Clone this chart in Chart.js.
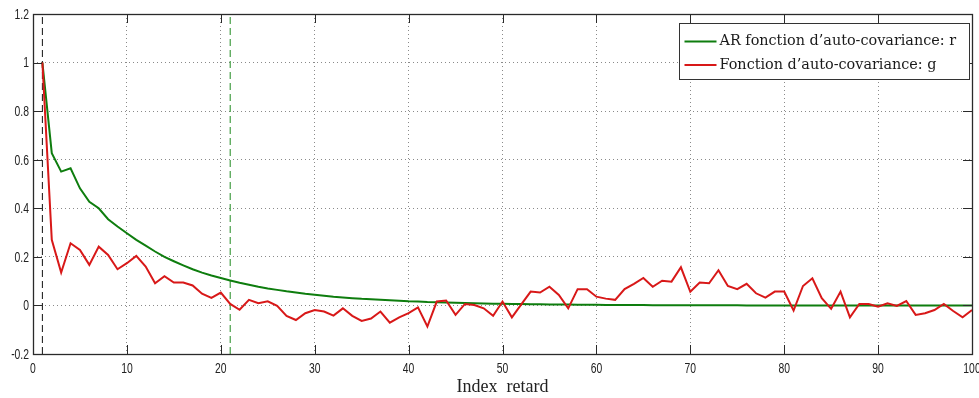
<!DOCTYPE html>
<html>
<head>
<meta charset="utf-8">
<script src="https://cdn.jsdelivr.net/npm/chart.js@4/dist/chart.umd.min.js"></script>
<style>
  html, body { margin: 0; padding: 0; background: #fff; }
  #wrap { width: 979px; height: 398px; position: relative; }
</style>
</head>
<body>
<div id="wrap"><canvas id="c" width="979" height="398"></canvas></div>
<script>
// Lag indices 1..100
const lags = Array.from({ length: 100 }, (_, i) => i + 1);

// AR model auto-covariance (r)
const arCov = [
  1.000, 0.627, 0.551, 0.565, 0.482, 0.427, 0.400, 0.355, 0.325, 0.297,
  0.270, 0.246, 0.222, 0.200, 0.182, 0.165, 0.149, 0.135, 0.123, 0.113,
  0.103, 0.093, 0.085, 0.077, 0.070, 0.064, 0.058, 0.053, 0.048, 0.044,
  0.040, 0.036, 0.033, 0.030, 0.027, 0.025, 0.023, 0.021, 0.019, 0.017,
  0.016, 0.014, 0.013, 0.012, 0.011, 0.010, 0.009, 0.008, 0.007, 0.007,
  0.006, 0.006, 0.005, 0.005, 0.004, 0.004, 0.004, 0.003, 0.003, 0.003,
  0.002, 0.002, 0.002, 0.002, 0.002, 0.001, 0.001, 0.001, 0.001, 0.001,
  0.001, 0.001, 0.001, 0.001, 0.001, 0.000, 0.000, 0.000, 0.000, 0.000,
  0.000, 0.000, 0.000, 0.000, 0.000, 0.000, 0.000, 0.000, 0.000, 0.000,
  0.000, 0.000, 0.000, 0.000, 0.000, 0.000, 0.000, 0.000, 0.000, 0.000
];

// Empirical auto-covariance (g)
const empCov = [
  1.000, 0.270, 0.135, 0.256, 0.228, 0.167, 0.242, 0.208, 0.149, 0.174,
  0.204, 0.160, 0.091, 0.120, 0.094, 0.094, 0.082, 0.048, 0.031, 0.053,
  0.006, -0.018, 0.023, 0.009, 0.017, -0.002, -0.043, -0.060, -0.032, -0.019,
  -0.025, -0.042, -0.012, -0.043, -0.064, -0.054, -0.025, -0.071, -0.049, -0.032,
  -0.008, -0.087, 0.016, 0.020, -0.039, 0.006, 0.002, -0.012, -0.043, 0.016,
  -0.049, 0.004, 0.057, 0.053, 0.077, 0.043, -0.012, 0.067, 0.067, 0.036,
  0.028, 0.023, 0.067, 0.089, 0.113, 0.077, 0.102, 0.098, 0.157, 0.056,
  0.094, 0.091, 0.145, 0.080, 0.067, 0.089, 0.050, 0.032, 0.057, 0.057,
  -0.021, 0.080, 0.112, 0.030, -0.014, 0.057, -0.049, 0.006, 0.006, -0.005,
  0.009, -0.002, 0.018, -0.039, -0.032, -0.019, 0.006, -0.023, -0.049, -0.019
];

// Marker lags shown as vertical dashed lines
const startLag = 1;
const orderLag = 21;

// Axis ticks
const xTicks = [0, 10, 20, 30, 40, 50, 60, 70, 80, 90, 100];
const yTicks = [-0.2, 0, 0.2, 0.4, 0.6, 0.8, 1, 1.2];
const yTickLabels = ['-0.2', '0', '0.2', '0.4', '0.6', '0.8', '1', '1.2'];
const yRange = [-0.2, 1.2];

const legendLabels = ["AR fonction d\u2019auto-covariance: r", "Fonction d\u2019auto-covariance: g"];
const xTitle = "Index  retard";

const GREEN = '#0e7d0e';
const RED = '#d81818';
const AXIS = '#2a2a2a';
const TICK_FONT = '14px "Liberation Sans", Arial, sans-serif';
const SERIF = '"Liberation Serif", "DejaVu Serif", serif';

const toPoints = (xs, ys) => xs.map((x, i) => ({ x, y: ys[i] }));

// Narrow tick label text (horizontally compressed)
function narrowText(ctx, text, x, y, align) {
  const sx = 0.74;
  ctx.save();
  ctx.translate(x, y);
  ctx.scale(sx, 1);
  ctx.textAlign = align;
  ctx.fillText(text, 0, 0);
  ctx.restore();
}

// Box frame, inward tick marks, tick labels and the boxed legend
const framePlugin = {
  id: 'frame',
  afterDatasetsDraw(chart) {
    const { ctx, chartArea: a, scales } = chart;
    const xs = scales.x, ys = scales.y;
    const tl = 9;
    ctx.save();
    ctx.strokeStyle = AXIS;
    ctx.lineWidth = 1;
    ctx.beginPath();
    xTicks.forEach(v => {
      const px = Math.round(xs.getPixelForValue(v)) + 0.5;
      ctx.moveTo(px, a.bottom); ctx.lineTo(px, a.bottom - tl);
      ctx.moveTo(px, a.top); ctx.lineTo(px, a.top + tl);
    });
    yTicks.forEach(v => {
      const py = Math.round(ys.getPixelForValue(v)) + 0.5;
      ctx.moveTo(a.left, py); ctx.lineTo(a.left + tl, py);
      ctx.moveTo(a.right, py); ctx.lineTo(a.right - tl, py);
    });
    ctx.stroke();
    ctx.lineWidth = 1.3;
    ctx.strokeRect(Math.round(a.left) + 0.5, Math.round(a.top) + 0.5,
                   Math.round(a.right - a.left), Math.round(a.bottom - a.top));

    // tick labels
    ctx.fillStyle = '#222';
    ctx.font = TICK_FONT;
    ctx.textBaseline = 'middle';
    xTicks.forEach(v => narrowText(ctx, String(v), xs.getPixelForValue(v), a.bottom + 15, 'center'));
    yTicks.forEach((v, i) => narrowText(ctx, yTickLabels[i], a.left - 4, ys.getPixelForValue(v) + 1, 'right'));

    // legend box
    const bw = 290, bh = 56;
    const bx = Math.round(a.right) - 3 - bw + 0.5;
    const by = Math.round(a.top) + 9 + 0.5;
    ctx.fillStyle = '#fff';
    ctx.fillRect(bx, by, bw, bh);
    ctx.lineWidth = 1;
    ctx.strokeStyle = '#333';
    ctx.strokeRect(bx, by, bw, bh);
    const colors = [GREEN, RED];
    ctx.font = '14.4px "DejaVu Serif", serif';
    ctx.textBaseline = 'middle';
    ctx.textAlign = 'left';
    legendLabels.forEach((t, i) => {
      const ly = by + 18 + i * 23.5;
      ctx.strokeStyle = colors[i];
      ctx.lineWidth = 2;
      ctx.beginPath();
      ctx.moveTo(bx + 5, ly); ctx.lineTo(bx + 37, ly);
      ctx.stroke();
      ctx.fillStyle = '#1a1a1a';
      ctx.fillText(t, bx + 40, ly);
    });
    ctx.restore();
  }
};

new Chart(document.getElementById('c'), {
  type: 'line',
  data: {
    datasets: [
      {
        label: legendLabels[1],
        data: toPoints(lags, empCov),
        borderColor: RED, borderWidth: 2, pointRadius: 0, tension: 0, order: 1
      },
      {
        label: legendLabels[0],
        data: toPoints(lags, arCov),
        borderColor: GREEN, borderWidth: 2, pointRadius: 0, tension: 0, order: 2
      },
      {
        label: 'start',
        data: toPoints([startLag, startLag], yRange),
        borderColor: '#111', borderWidth: 1, borderDash: [7, 4], pointRadius: 0, order: 3
      },
      {
        label: 'order',
        data: toPoints([orderLag, orderLag], yRange),
        borderColor: '#1f8a1f', borderWidth: 1, borderDash: [7, 4], pointRadius: 0, order: 3
      }
    ]
  },
  options: {
    responsive: false,
    animation: false,
    events: [],
    layout: { autoPadding: false, padding: { top: 14, right: 7, left: 0, bottom: 0 } },
    plugins: { legend: { display: false }, tooltip: { enabled: false } },
    scales: {
      x: {
        type: 'linear', min: 0, max: 100,
        afterBuildTicks: s => { s.ticks = xTicks.map(v => ({ value: v })); },
        afterFit: s => { s.height = 44; },
        grid: { color: '#8a8a8a', lineWidth: 1, drawTicks: false },
        border: { display: false, dash: [1, 3] },
        ticks: { display: false },
        title: {
          display: true, text: xTitle, color: '#222',
          font: { family: SERIF, size: 18 },
          padding: { top: 0, bottom: 0 }
        }
      },
      y: {
        type: 'linear', min: yRange[0], max: yRange[1],
        afterBuildTicks: s => { s.ticks = yTicks.map(v => ({ value: v })); },
        afterFit: s => { s.width = 33; },
        grid: { color: '#8a8a8a', lineWidth: 1, drawTicks: false },
        border: { display: false, dash: [1, 3] },
        ticks: { display: false }
      }
    }
  },
  plugins: [framePlugin]
});
</script>
</body>
</html>
